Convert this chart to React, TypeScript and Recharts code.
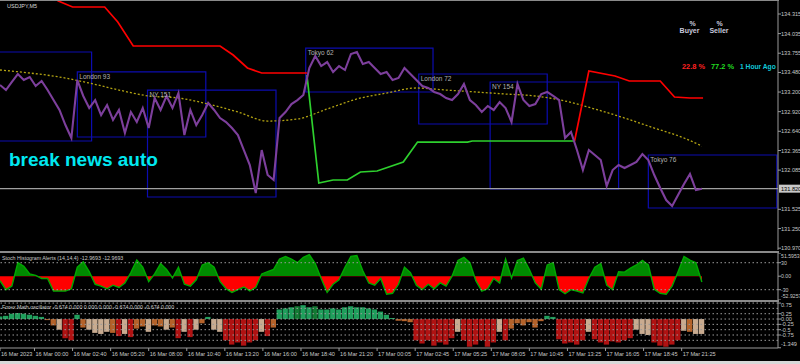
import React from 'react';
import { ComposedChart, Line, Area, Bar, Cell, XAxis, YAxis, ReferenceArea, ReferenceLine } from 'recharts';

const FONT = 'Liberation Sans, Arial, sans-serif';
const BAR_STEP = 5; // each sample = 5 M5 bars
const X_DOMAIN: [number, number] = [0, 654];
const MAIN_Y: [number, number] = [130.944, 134.515];
const STOCH_Y: [number, number] = [-52.9257, 51.5953];
const OSC_Y: [number, number] = [-1.36, 0.8];

const priceValues = [
  133.301, 133.229, 133.344, 133.458, 133.372, 133.415, 133.286, 133.358, 133.229, 133.086,
  132.944, 132.729, 132.544, 133.372, 133.144, 132.972, 133.086, 132.872, 133.015, 132.801,
  132.944, 132.615, 132.915, 132.772, 132.972, 132.686, 133.115, 132.944, 133.144, 132.972,
  133.186, 132.586, 132.944, 132.729, 132.872, 133.044, 132.944, 132.829, 132.772, 132.686,
  132.586, 132.372, 132.158, 131.758, 132.372, 132.015, 131.944, 132.829, 132.915, 133.029,
  133.086, 133.158, 133.544, 133.715, 133.572, 133.629, 133.486, 133.572, 133.515, 133.744,
  133.772, 133.601, 133.629, 133.544, 133.458, 133.486, 133.372, 133.401, 133.544, 133.458,
  133.372, 133.286, 133.258, 133.201, 133.172, 133.115, 133.086, 133.172, 133.315, 133.086,
  133.015, 132.915, 133.001, 132.944, 133.058, 132.972, 132.772, 133.315, 133.086, 133.001,
  133.029, 133.172, 133.201, 133.144, 133.086, 132.544, 132.629, 132.372, 132.086, 132.372,
  132.301, 132.229, 131.858, 132.086, 132.158, 132.115, 132.158, 132.201, 132.315, 132.229,
  132.015, 131.829, 131.658, 131.572, 131.729, 131.886, 132.029, 131.801, 131.82,
];

const stochValues = [
  -10, -30, -22, 30, 22, 5, 2, -5, -5, -33,
  -33, -33, -28, 20, 32, 10, -18, -22, -28, -20,
  -25, -15, 8, 36, 20, -12, 5, 28, 15, -4,
  20, -18, -22, -8, 25, 30, 20, -12, -28, -36,
  -30, -24, -33, -25, 5, 10, 15, 38, 44, 38,
  30, 42, 48, 28, -5, -36, -18, -8, 20, 44,
  46, 12, -15, -20, -5, -40, -38, -18, 20, 8,
  -20, -30, -18, -28, -15, -22, 0, 35, 42, 30,
  -10, -33, -28, -5, -15, 38, -4, 35, 40, 15,
  -15, -29, 25, 30, -30, -39, -30, -33, -37, -5,
  20, 28, -20, -30, 10, 9, 18, 25, 35, 25,
  -29, -38, -40, -22, 10, 44, 36, 30, -12.9693,
];

const oscValues = [
  0.12, 0.15, 0.25, 0.28, 0.25, 0.2, 0.15, 0.1,
  -0.05, -0.3, -0.5, -0.9, -1.0,
  0.2, -0.4, -0.5, -0.65, -0.7, -0.6, -0.65,
  -0.8, -0.7, -0.85, -0.45, -0.35, -0.6, -0.3,
  -0.35, -0.5, -0.4, -0.9, -0.6, -0.85, -0.5, -0.2,
  0.1, -0.5, -0.6, -1.0, -1.2, -1.1, -1.25, -1.1, -1.0, -0.6, -0.8, -0.4,
  0.45, 0.5, 0.55, 0.6, 0.65, 0.55, 0.6,
  0.45, 0.45, 0.5, 0.45, 0.55, 0.6, 0.55, 0.55, 0.5, 0.45, 0.35, 0.2, 0.05,
  -0.08, -0.1, -0.15,
  -1.0, -1.15, -1.0, -1.25, -1.1, -1.2, -0.9,
  -0.6,
  -1.0, -1.3, -1.2, -1.0, -1.3, -1.1,
  -0.6, -1.0,
  -0.45, -0.2, -0.3, -0.15, -0.4, -0.1,
  0.15, 0.1,
  -0.95, -1.15, -1.1, -1.2, -1.0,
  -0.6,
  -0.95, -1.1, -1.2, -1.05, -1.1, -1.0, -0.9,
  -0.5, -0.7, -0.75,
  -1.1, -1.25, -1.3, -1.2, -1.0,
  -0.55, -0.6, -0.7, -0.7,
];

const oscColorCodes = (
  'GGGGGGGG' + 'BBTRR' + 'GBTTTTB' + 'RTRBBTB' + 'BTBRTRTB' + 'GTTRRRRRRTRB' +
  'GGGDGGD' + 'GGGGGGGGGGGGG' + 'BBB' + 'RRRRRRR' + 'T' + 'RRRRRR' + 'TR' +
  'BBBBBB' + 'GG' + 'RRRRR' + 'T' + 'RRRRRRR' + 'TTT' + 'RRRRR' + 'TBTT'
).split('');

const OSC_COLORS: Record<string, string> = {
  G: '#1f9f5c',
  D: '#137a34',
  R: '#b01212',
  T: '#c9ab90',
  B: '#b4622a',
};

const maBars = [0, 25, 50, 75, 100, 125, 150, 175, 200, 225, 250, 275, 300, 325, 350, 375, 400, 425, 450, 475, 500, 525, 550, 575, 590];
const maValues = [
  133.515, 133.472, 133.415, 133.329, 133.229, 133.144, 133.115, 133.029, 132.915, 132.786,
  132.815, 132.958, 133.101, 133.186, 133.258, 133.229, 133.201, 133.172, 133.144, 133.072,
  132.958, 132.829, 132.686, 132.544, 132.429,
];

const redBars = [40, 49, 61, 88, 99, 112, 185, 196, 208, 220, 258, 259, 483, 495, 517, 529, 555, 567, 580, 591];
const redPrices = [
  134.62, 134.501, 134.415, 134.415, 134.201, 133.858, 133.858, 133.729, 133.544, 133.472, 133.472,
  null, 132.501, 133.501, 133.429, 133.358, 133.358, 133.129, 133.115, 133.115,
];

const greenBars = [258, 268, 280, 292, 303, 317, 339, 351, 393, 397, 483];
const greenPrices = [133.444, 131.901, 131.944, 131.944, 132.058, 132.072, 132.201, 132.486, 132.486, 132.501, 132.501];

const boxLabels = ['', 'London  93', 'NY  151', 'Tokyo  62', 'London  72', 'NY  154', 'Tokyo  76'];
const boxStart = [-31, 65, 124, 257, 352, 412, 545];
const boxEnd = [77, 173, 232, 364, 460, 520, 653];
const boxHigh = [133.772, 133.487, 133.229, 133.829, 133.458, 133.344, 132.301];
const boxLow = [132.501, 132.558, 131.701, 133.201, 132.744, 131.815, 131.544];

const priceTicks = [134.315, 134.035, 133.755, 133.48, 133.2, 132.92, 132.64, 132.365, 132.085, 131.525, 131.25, 130.97];
const currentPrice = 131.82;
const stochTicks = [51.5953, 30, 0, -30, -52.9257];
const stochLevels = [30, -30];
const oscTicks = [0.75, 0.25, 0, -0.25, -0.5, -0.75, -1.349];
const oscLevels = [0.75, 0.5, 0.25, 0, -0.25, -0.5, -0.75, -1.0];

const timeTickBars = [0, 29, 61, 93, 125, 157, 189, 221, 253, 285, 317, 349, 381, 413, 445, 477, 509, 541, 573];
const timeTickLabels = [
  '16 Mar 2023', '16 Mar 00:00', '16 Mar 02:40', '16 Mar 05:20', '16 Mar 08:00', '16 Mar 10:40',
  '16 Mar 13:20', '16 Mar 16:00', '16 Mar 18:40', '16 Mar 21:20', '17 Mar 00:05', '17 Mar 02:45',
  '17 Mar 05:25', '17 Mar 08:05', '17 Mar 10:45', '17 Mar 13:25', '17 Mar 16:05', '17 Mar 18:45', '17 Mar 21:25',
];

const rows = priceValues.map((p, i) => ({
  bar: i * BAR_STEP,
  price: p,
  stoch: stochValues[i],
  osc: oscValues[i],
  code: oscColorCodes[i],
}));
const maData = maBars.map((b, i) => ({ bar: b, ma: maValues[i] }));
const redData = redBars.map((b, i) => ({ bar: b, v: redPrices[i] }));
const greenData = greenBars.map((b, i) => ({ bar: b, v: greenPrices[i] }));

const sMax = Math.max(...stochValues);
const sMin = Math.min(...stochValues);
const stochSplit = sMax / (sMax - sMin);

const AXIS_TXT = '#c8c8c8';

const PriceTick = (props: any) => {
  const { x, y, payload } = props;
  return (
    <text x={x} y={y} dy={2} fontSize={5.6} fill={AXIS_TXT} fontFamily={FONT} textAnchor="start">
      {Number(payload.value).toFixed(3)}
    </text>
  );
};

const StochTick = (props: any) => {
  const { x, y, payload } = props;
  const v = Number(payload.value);
  const txt = v === 0 ? '0.00' : String(v);
  const dy = v === STOCH_Y[1] ? 5 : v === STOCH_Y[0] ? -2 : 2;
  return (
    <text x={x} y={y} dy={dy} fontSize={5.2} fill={AXIS_TXT} fontFamily={FONT} textAnchor="start">{txt}</text>
  );
};

const OscTick = (props: any) => {
  const { x, y, payload } = props;
  const v = Number(payload.value);
  const txt = v === 0 ? '0.00' : String(v);
  const dy = v < -1.2 ? -2 : v > 0.5 ? 4 : 2;
  return (
    <text x={x} y={y} dy={dy} fontSize={5.6} fill={AXIS_TXT} fontFamily={FONT} textAnchor="start">{txt}</text>
  );
};

const TimeTick = (props: any) => {
  const { x, y, payload } = props;
  const idx = timeTickBars.indexOf(Number(payload.value));
  const label = idx >= 0 ? timeTickLabels[idx] : '';
  return (
    <text x={x + 1} y={y} dy={5} fontSize={5.6} fill={AXIS_TXT} fontFamily={FONT} textAnchor="start">
      {label}
    </text>
  );
};

const CurrentPriceLabel = (props: any) => {
  const vb = props.viewBox || {};
  const x = (vb.x || 0) + (vb.width || 0) + 1;
  const y = vb.y || 0;
  return (
    <g>
      <rect x={x} y={y - 4} width={22} height={8} fill="#c8c8c8" />
      <text x={x + 2} y={y + 2} fontSize={5.6} fill="#000" fontFamily={FONT}>{currentPrice.toFixed(3)}</text>
    </g>
  );
};

const sep = (top: number, h: number, color = '#8a8a8a') => (
  <div style={{ position: 'absolute', left: 0, top, width: 779, height: h, background: color }} />
);

export default function App() {
  return (
    <div style={{ position: 'fixed', left: 0, top: 0, width: 800, height: 364, background: '#000', overflow: 'hidden' }}>
      {/* main price panel */}
      <div style={{ position: 'absolute', left: 0, top: 0 }}>
        <ComposedChart width={800} height={250} data={rows} margin={{ top: 0, right: 0, bottom: 0, left: 0 }}>
          <XAxis dataKey="bar" type="number" domain={X_DOMAIN} allowDataOverflow hide />
          <YAxis
            orientation="right"
            width={22}
            type="number"
            domain={MAIN_Y}
            allowDataOverflow
            ticks={priceTicks}
            interval={0}
            tickSize={3}
            tickMargin={0}
            tickLine={{ stroke: '#9a9a9a' }}
            axisLine={{ stroke: '#9a9a9a' }}
            tick={<PriceTick />}
          />
          {boxLabels.map((name, i) => (
            <ReferenceArea
              key={'box' + i}
              x1={boxStart[i]}
              x2={boxEnd[i]}
              y1={boxLow[i]}
              y2={boxHigh[i]}
              ifOverflow="hidden"
              fill="none"
              fillOpacity={0}
              stroke="#0c0cb0"
              strokeWidth={1.2}
              label={{ value: name, position: 'insideTopLeft', offset: 2, fill: '#b0b0b0', fontSize: 6.5, fontFamily: FONT }}
            />
          ))}
          <ReferenceLine y={currentPrice} stroke="#a0a0a0" strokeWidth={1.2} label={<CurrentPriceLabel />} />
          <Line data={maData} dataKey="ma" type="monotone" stroke="#b4a412" strokeWidth={1.3} strokeDasharray="2 2" dot={false} isAnimationActive={false} />
          <Line data={redData} dataKey="v" type="linear" stroke="#ff0000" strokeWidth={1.7} dot={false} connectNulls={false} isAnimationActive={false} />
          <Line data={greenData} dataKey="v" type="linear" stroke="#2ed02e" strokeWidth={1.7} dot={false} isAnimationActive={false} />
          <Line dataKey="price" type="linear" stroke="#7d3f9c" strokeWidth={2.1} dot={false} isAnimationActive={false} />
        </ComposedChart>
      </div>

      {/* stochastic histogram panel */}
      <div style={{ position: 'absolute', left: 0, top: 253 }}>
        <ComposedChart width={800} height={47} data={rows} margin={{ top: 0, right: 0, bottom: 0, left: 0 }}>
          <defs>
            <linearGradient id="stochSplit" x1="0" y1="0" x2="0" y2="1">
              <stop offset={stochSplit} stopColor="#008a00" />
              <stop offset={stochSplit} stopColor="#ff0000" />
            </linearGradient>
          </defs>
          <XAxis dataKey="bar" type="number" domain={X_DOMAIN} allowDataOverflow hide />
          <YAxis
            orientation="right"
            width={22}
            type="number"
            domain={STOCH_Y}
            allowDataOverflow
            ticks={stochTicks}
            interval={0}
            tickSize={3}
            tickMargin={0}
            tickLine={{ stroke: '#9a9a9a' }}
            axisLine={{ stroke: '#9a9a9a' }}
            tick={<StochTick />}
          />
          {stochLevels.map((lv) => (
            <ReferenceLine key={'sl' + lv} y={lv} stroke="#9a9a9a" strokeDasharray="1.5 2.5" />
          ))}
          <Area dataKey="stoch" type="linear" baseValue={0} stroke="#00a800" strokeWidth={1.4} fill="url(#stochSplit)" fillOpacity={1} isAnimationActive={false} />
        </ComposedChart>
      </div>

      {/* oscillator panel */}
      <div style={{ position: 'absolute', left: 0, top: 302 }}>
        <ComposedChart width={800} height={62} data={rows} margin={{ top: 0, right: 0, bottom: 0, left: 0 }}>
          <XAxis
            dataKey="bar"
            type="number"
            domain={X_DOMAIN}
            allowDataOverflow
            ticks={timeTickBars}
            interval={0}
            height={16}
            tickSize={3}
            tickMargin={0}
            tickLine={{ stroke: '#9a9a9a' }}
            axisLine={{ stroke: '#9a9a9a' }}
            tick={<TimeTick />}
          />
          <YAxis
            orientation="right"
            width={22}
            type="number"
            domain={OSC_Y}
            allowDataOverflow
            ticks={oscTicks}
            interval={0}
            tickSize={3}
            tickMargin={0}
            tickLine={{ stroke: '#9a9a9a' }}
            axisLine={{ stroke: '#9a9a9a' }}
            tick={<OscTick />}
          />
          {oscLevels.map((lv) => (
            <ReferenceLine key={'ol' + lv} y={lv} stroke="#9a9a9a" strokeDasharray="1.5 2.5" />
          ))}
          <Bar dataKey="osc" barSize={6} isAnimationActive={false}>
            {rows.map((r, i) => (
              <Cell key={'c' + i} fill={OSC_COLORS[r.code]} />
            ))}
          </Bar>
        </ComposedChart>
      </div>

      {sep(0, 1)}
      {sep(251, 2)}
      {sep(300, 2)}
      <div style={{ position: 'absolute', left: 0, top: 361, width: 800, height: 3, background: '#d8d8d8' }} />

      <svg width={800} height={364} style={{ position: 'absolute', left: 0, top: 0, pointerEvents: 'none' }}>
        <text x={7} y={8} fontSize={5.5} fill="#d8d8d8" fontFamily={FONT}>USDJPY,M5</text>
        <text x={9} y={166} fontSize={19} fontWeight="bold" fill="#00e8f0" fontFamily={FONT}>break news auto</text>
        <text x={692.5} y={26} fontSize={7} fontWeight="bold" fill="#c8c8dc" fontFamily={FONT} textAnchor="middle">%</text>
        <text x={689.5} y={32.5} fontSize={7} fontWeight="bold" fill="#c8c8dc" fontFamily={FONT} textAnchor="middle">Buyer</text>
        <text x={719.5} y={26} fontSize={7} fontWeight="bold" fill="#c8c8dc" fontFamily={FONT} textAnchor="middle">%</text>
        <text x={719} y={32.5} fontSize={7} fontWeight="bold" fill="#c8c8dc" fontFamily={FONT} textAnchor="middle">Seller</text>
        <text x={682} y={68.5} fontSize={7.4} fontWeight="bold" fill="#ff2020" fontFamily={FONT}>22.8 %</text>
        <text x={711} y={68.5} fontSize={7.4} fontWeight="bold" fill="#22dd22" fontFamily={FONT}>77.2 %</text>
        <text x={740} y={68.5} fontSize={6.7} fontWeight="bold" fill="#10c8d8" fontFamily={FONT}>1 Hour Ago</text>
        <text x={2} y={259.5} fontSize={5.3} fill="#c8c8c8" fontFamily={FONT}>Stoch Histogram Alerts (14,14,4) -12.9693 -12.9693</text>
        <text x={2} y={308.5} fontSize={5.3} fill="#c8c8c8" fontFamily={FONT}>Forex Math oscillator -0.674 0.000 0.000 0.000 -0.674 0.000 -0.674 0.000</text>
      </svg>
    </div>
  );
}
